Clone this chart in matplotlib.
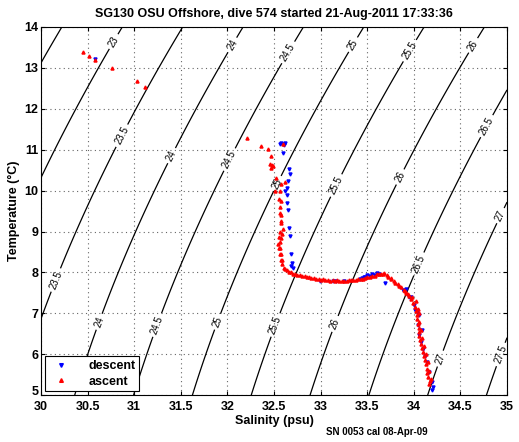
import numpy as np
import matplotlib
matplotlib.use("Agg")
import matplotlib.pyplot as plt
import matplotlib.transforms as mtransforms

matplotlib.rc("font", family=["Liberation Sans", "DejaVu Sans"], weight="bold", size=9)

title = "SG130 OSU Offshore, dive 574 started 21-Aug-2011 17:33:36"
footnote = "SN 0053 cal 08-Apr-09"

# descent samples (salinity, temperature)
desc_s = [30.58, 32.56, 32.58, 32.60, 32.62, 32.61, 32.60, 32.66, 32.67, 32.65, 32.64,
          32.62, 32.64, 32.64, 32.65, 32.66, 32.67, 32.68, 32.69, 32.68, 32.70,
          32.99, 33.13, 33.17, 33.25, 33.42, 33.46, 33.50, 33.55, 33.60, 33.63,
          33.44, 33.48, 33.53, 33.58,
          33.69, 33.88, 33.92, 33.95, 33.97, 34.00, 34.01, 34.03, 34.04, 34.06,
          34.08, 34.10, 34.12, 34.14, 34.16, 34.19, 34.20, 34.21, 34.05, 34.09]
desc_t = [13.22, 11.14, 11.17, 11.15, 11.16, 11.12, 10.92, 10.53, 10.40, 10.23, 10.06,
          9.99, 9.90, 9.69, 9.52, 9.08, 8.88, 8.44, 8.22, 8.15, 8.10,
          7.80, 7.78, 7.79, 7.80, 7.83, 7.90, 7.93, 7.96, 7.98, 7.95,
          7.86, 7.89, 7.91, 7.93,
          7.75, 7.58, 7.60, 7.41, 7.41, 7.21, 7.09, 7.04, 6.72, 6.47,
          6.30, 6.13, 5.95, 5.81, 5.56, 5.32, 5.12, 5.20, 6.95, 6.60]

# ascent samples (salinity, temperature)
asc_s = [34.16, 34.17, 34.15, 34.14, 34.14, 34.13, 34.12, 34.11, 34.10, 34.09, 34.08,
         34.07, 34.06, 34.06, 34.05, 34.04, 34.03, 34.03, 34.02, 34.01, 33.99, 33.97,
         33.95, 33.92, 33.89, 33.86, 33.83, 33.79, 33.75, 33.71, 33.67, 33.63, 33.58,
         33.53, 33.48, 33.43, 33.38, 33.33, 33.28, 33.23, 33.18, 33.13, 33.08, 33.03,
         32.98, 32.93, 32.88, 32.83, 32.78, 32.73, 32.68, 32.64, 32.61, 32.59, 32.58,
         32.56, 32.55, 32.56, 32.57, 32.59, 32.60, 32.58, 32.57, 32.56, 32.55, 32.56,
         32.58, 32.62, 32.52, 32.51, 32.47, 32.48, 32.46, 32.49, 32.47, 32.43, 32.36,
         32.21, 32.60, 32.57, 32.56, 32.57, 32.56, 32.54, 32.56, 32.57, 32.59, 32.55,
         31.12, 31.03, 30.76, 30.58, 30.51, 30.45,
         34.18, 34.16, 34.15, 34.13, 34.11, 34.09, 34.08, 34.06, 34.05, 34.04, 34.02,
         33.98, 33.94, 33.90, 33.84, 33.80, 33.76, 33.72, 33.68, 33.65, 33.60, 33.55,
         33.50, 33.45, 33.40, 33.35, 33.30, 33.25, 33.20, 33.15, 33.10, 33.05, 33.00,
         32.95, 32.90, 32.85, 32.80, 32.75, 32.70, 32.66, 32.62]
asc_t = [5.28, 5.35, 5.45, 5.55, 5.65, 5.75, 5.85, 5.95, 6.05, 6.15, 6.25,
         6.35, 6.45, 6.55, 6.65, 6.75, 6.85, 6.95, 7.05, 7.15, 7.25, 7.35,
         7.42, 7.50, 7.58, 7.65, 7.72, 7.80, 7.87, 7.93, 7.96, 7.95, 7.92,
         7.89, 7.86, 7.84, 7.82, 7.81, 7.80, 7.80, 7.81, 7.81, 7.82, 7.83,
         7.85, 7.87, 7.89, 7.92, 7.94, 7.97, 8.00, 8.06, 8.12, 8.20, 8.30,
         8.45, 8.60, 8.75, 8.85, 8.95, 9.05, 9.20, 9.40, 9.60, 9.80, 10.00,
         10.15, 10.22, 10.30, 9.99, 10.55, 10.62, 10.66, 10.60, 10.85, 11.02, 11.09,
         11.29, 11.15, 9.74, 9.45, 9.25, 9.00, 8.69, 8.60, 8.44, 8.30, 8.87,
         12.54, 12.67, 13.00, 13.20, 13.30, 13.38,
         5.40, 5.60, 5.80, 6.00, 6.20, 6.40, 6.60, 6.80, 7.00, 7.10, 7.30,
         7.40, 7.47, 7.55, 7.66, 7.75, 7.84, 7.90, 7.99, 7.97, 7.95, 7.91,
         7.88, 7.85, 7.83, 7.82, 7.81, 7.79, 7.79, 7.80, 7.80, 7.81, 7.82,
         7.84, 7.86, 7.88, 7.91, 7.93, 7.96, 8.02, 8.08]

unlabeled_levels = [22.5]
sigma_levels = [23, 23.5, 24, 24.5, 25, 25.5, 26, 26.5, 27, 27.5]
label_pos = [(30.76, 13.67), (30.81, 11.41), (30.12, 7.85),
             (32.06, 13.55), (31.24, 11.04), (30.63, 6.79),
             (32.65, 13.38), (31.84, 10.97), (31.24, 6.72),
             (33.31, 13.62), (32.53, 10.18), (31.90, 6.79),
             (33.92, 13.47), (33.18, 10.11), (32.51, 6.72),
             (34.60, 13.60), (33.83, 10.36), (33.18, 6.72),
             (34.81, 11.54), (34.12, 8.14),
             (34.90, 9.42), (34.30, 5.88),
             (34.95, 5.98)]


def sigma_t(s, t):
    # UNESCO EOS-80 at surface pressure
    rw = (999.842594 + 6.793952e-2 * t - 9.095290e-3 * t**2 + 1.001685e-4 * t**3
          - 1.120083e-6 * t**4 + 6.536332e-9 * t**5)
    a = 8.24493e-1 - 4.0899e-3 * t + 7.6438e-5 * t**2 - 8.2467e-7 * t**3 + 5.3875e-9 * t**4
    b = -5.72466e-3 + 1.0227e-4 * t - 1.6546e-6 * t**2
    c = 4.8314e-4
    return rw + a * s + b * s**1.5 + c * s**2 - 1000.0


sg, tg = np.meshgrid(np.linspace(30, 35, 300), np.linspace(5, 14, 300))
sig = sigma_t(sg, tg)

fig = plt.figure(figsize=(5.19, 4.42), dpi=100)
ax = fig.add_axes([0.079, 0.106, 0.898, 0.833])

ax.contour(sg, tg, sig, levels=unlabeled_levels, colors="k", linewidths=0.9)
cs = ax.contour(sg, tg, sig, levels=sigma_levels, colors="k", linewidths=0.9)
labels = ax.clabel(cs, fmt="%g", fontsize=7, inline=True,
                   inline_spacing=3, manual=label_pos)
for lb in labels:
    lb.set_fontweight("normal")

ax.plot(desc_s, desc_t, "v", color="b", markersize=2.2, linestyle="none", label="descent")
ax.plot(asc_s, asc_t, "^", color="r", markersize=2.2, linestyle="none", label="ascent")

ax.set_xlim(30, 35)
ax.set_ylim(5, 14)
ax.set_xticks(np.arange(30, 35.01, 0.5))
ax.set_xticklabels(["30", "30.5", "31", "31.5", "32", "32.5", "33", "33.5", "34", "34.5", "35"])
ax.set_yticks(np.arange(5, 15, 1))
ax.grid(True, linestyle=(0, (1, 3)), color="0.4", linewidth=0.8)
ax.tick_params(direction="in", top=True, right=True, length=3, labelsize=9)
ax.tick_params(axis="x", pad=4)
ax.tick_params(axis="y", pad=2)

# nudge the lowest y tick label up so it clears the "30" below it
fig.canvas.draw()
first_ylabel = ax.get_yticklabels()[0]
first_ylabel.set_transform(first_ylabel.get_transform()
                           + mtransforms.ScaledTranslation(0, 3 / 72, fig.dpi_scale_trans))

ax.set_title(title, fontsize=9, fontweight="bold", pad=7)
ax.set_xlabel("Salinity (psu)", fontsize=9, fontweight="bold", labelpad=2)
ax.set_ylabel("Temperature (\u00b0C)", fontsize=9, fontweight="bold", labelpad=3)

leg = ax.legend(loc="lower left", fancybox=False, framealpha=1, edgecolor="k",
                borderpad=0.3, handletextpad=1.2, labelspacing=0.3, markerscale=1.2,
                prop={"weight": "bold", "size": 9}, borderaxespad=0.3)
leg.get_frame().set_linewidth(0.8)

fig.text(0.726, 0.023, footnote, fontsize=7, fontweight="bold", ha="center", va="center")

fig.savefig("out.png", dpi=100)
